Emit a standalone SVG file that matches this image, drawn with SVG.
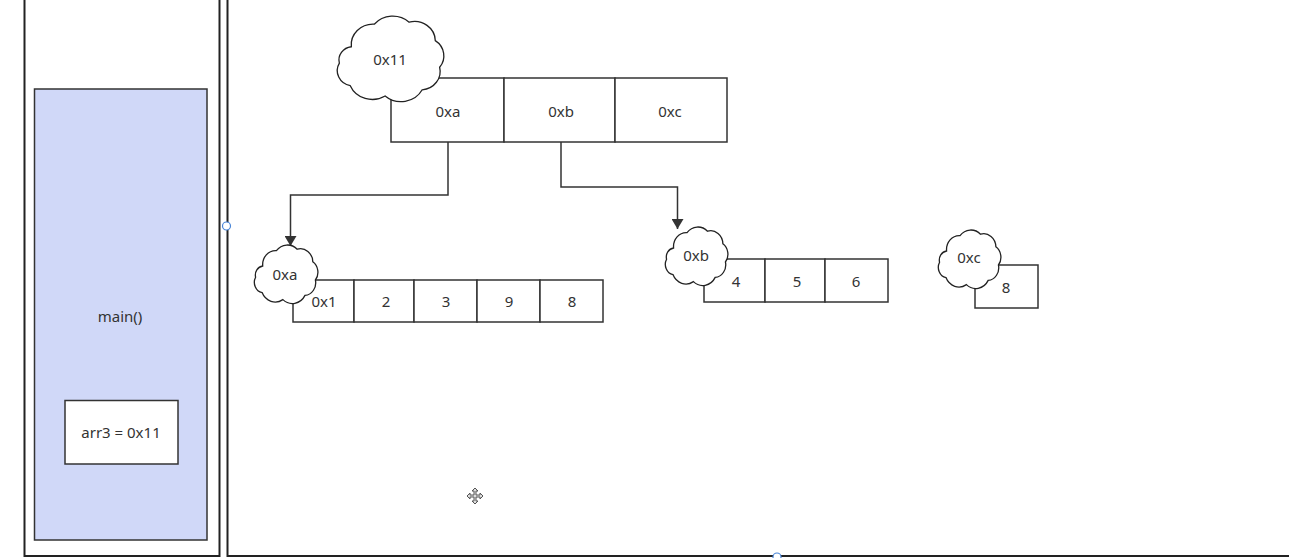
<svg xmlns="http://www.w3.org/2000/svg" width="1289" height="558" viewBox="0 0 1289 558">
<style>
.frame{fill:#fff;stroke:#222;stroke-width:2}
.box{fill:#fff;stroke:#333;stroke-width:1.5}
.stack{fill:#d0d8f8;stroke:#333;stroke-width:1.5}
.cloud{fill:#fff;stroke:#222;stroke-width:1.3;vector-effect:non-scaling-stroke}
.t{font-family:"Noto Sans","Open Sans",sans-serif;font-size:15px;fill:#333;text-anchor:middle;dominant-baseline:central}
.conn{fill:none;stroke:#333;stroke-width:1.5}
.handle{fill:#fff;stroke:#4a86d8;stroke-width:1.2}
</style>
<defs>
<symbol id="cloudShape" viewBox="0 0 100 80" preserveAspectRatio="none" overflow="visible">
<path class="cloud" d="M15,30 A20,20 0 0 1 36,8 A22,22 0 0 1 68,6 A19,19 0 0 1 92,24 A18,18 0 0 1 96,50 A18,18 0 0 1 80,72 A22,22 0 0 1 46,78 A22,22 0 0 1 14,68 A15,15 0 0 1 4,46 A13,13 0 0 1 15,30 Z"/>
</symbol>
<marker id="arr" viewBox="0 0 10 12" refX="10" refY="6" markerWidth="10" markerHeight="12" markerUnits="userSpaceOnUse" orient="auto">
<path d="M0,0 L10,6 L0,12 Z" fill="#333"/>
</marker>
</defs>
<rect width="1289" height="558" fill="#fff"/>
<g id="stack-frame"><rect class="frame" x="24.5" y="-5" width="195" height="561"/></g>
<g id="heap-frame"><rect class="frame" x="227.5" y="-5" width="1070" height="561"/></g>
<g id="main-frame">
<rect class="stack" x="34.5" y="89" width="172.5" height="451"/>
<text class="t" x="120" y="316">main()</text>
</g>
<g id="arr3">
<rect class="box" x="65" y="400.5" width="113" height="63.5"/>
<text class="t" x="121" y="432">arr3 = 0x11</text>
</g>
<g id="connectors">
<path class="conn" d="M448,142 V195 H290.5 V246" marker-end="url(#arr)"/>
<path class="conn" d="M561,142 V187 H677.5 V229" marker-end="url(#arr)"/>
</g>
<g id="array-0x11">
<rect class="box" x="391" y="78" width="113" height="64"/>
<rect class="box" x="504" y="78" width="111" height="64"/>
<rect class="box" x="615" y="78" width="112" height="64"/>
<text class="t" x="448" y="111">0xa</text>
<text class="t" x="561" y="111">0xb</text>
<text class="t" x="670" y="111">0xc</text>
</g>
<g id="cloud-0x11">
<use href="#cloudShape" x="335" y="16" width="109" height="82"/>
<text class="t" x="390" y="59">0x11</text>
</g>
<g id="array-0xa">
<rect class="box" x="293" y="280" width="61" height="42"/>
<rect class="box" x="354" y="280" width="60" height="42"/>
<rect class="box" x="414" y="280" width="63" height="42"/>
<rect class="box" x="477" y="280" width="63" height="42"/>
<rect class="box" x="540" y="280" width="63" height="42"/>
<text class="t" x="324" y="301">0x1</text>
<text class="t" x="386" y="301">2</text>
<text class="t" x="446" y="301">3</text>
<text class="t" x="509" y="301">9</text>
<text class="t" x="572" y="301">8</text>
</g>
<g id="cloud-0xa">
<use href="#cloudShape" x="253" y="245" width="65" height="56"/>
<text class="t" x="285" y="274">0xa</text>
</g>
<g id="array-0xb">
<rect class="box" x="704" y="259" width="61" height="43"/>
<rect class="box" x="765" y="259" width="60" height="43"/>
<rect class="box" x="825" y="259" width="63" height="43"/>
<text class="t" x="736" y="281">4</text>
<text class="t" x="797" y="281">5</text>
<text class="t" x="856" y="281">6</text>
</g>
<g id="cloud-0xb">
<use href="#cloudShape" x="664" y="227" width="64" height="56"/>
<text class="t" x="696" y="255">0xb</text>
</g>
<g id="array-0xc">
<rect class="box" x="975" y="265" width="63" height="43"/>
<text class="t" x="1006" y="287">8</text>
</g>
<g id="cloud-0xc">
<use href="#cloudShape" x="937" y="230" width="64" height="56"/>
<text class="t" x="969" y="257">0xc</text>
</g>
<g id="handles">
<circle class="handle" cx="226.5" cy="226" r="4"/>
<circle class="handle" cx="777" cy="557" r="4"/>
</g>
<g id="cursor" fill="none" stroke="#555" stroke-width="1">
<path d="M475,488 L478,491 H476 V495 H480 V493 L483,496 L480,499 V497 H476 V501 H478 L475,504 L472,501 H474 V497 H470 V499 L467,496 L470,493 V495 H474 V491 H472 Z" fill="#ddd"/>
</g>
</svg>
